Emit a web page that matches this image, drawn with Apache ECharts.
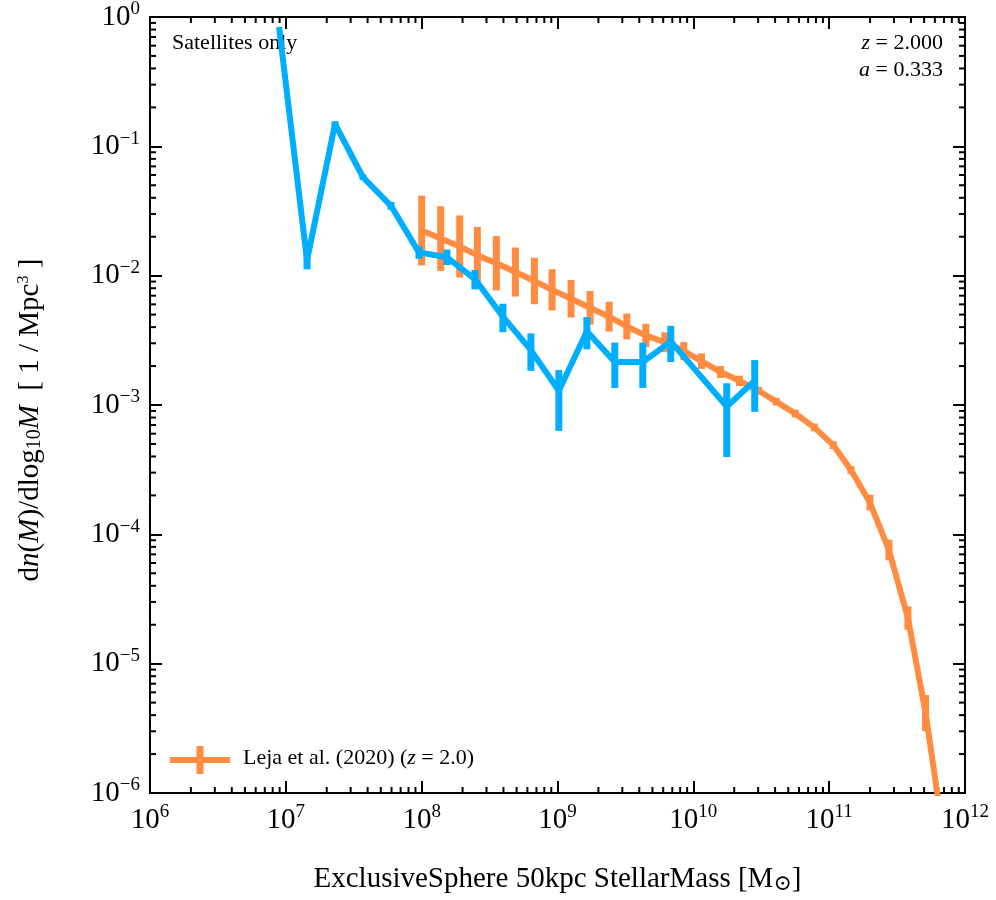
<!DOCTYPE html>
<html><head><meta charset="utf-8">
<script src="https://cdn.jsdelivr.net/npm/echarts@6/dist/echarts.min.js"></script>
<style>html,body{margin:0;padding:0;background:#fff}#c{width:996px;height:900px}</style>
</head><body><div id="c"></div>
<script>
// Simulation (satellites only): log10 M, log10 dn/dlogM, errors in dex (up, down)
const simLogM = [6.95,7.156,7.362,7.568,7.774,7.98,8.186,8.392,8.598,8.804,9.01,9.216,9.422,9.628,9.834,10.246,10.452];
const simLogPhi = [-0.076,-1.881,-0.826,-1.239,-1.46,-1.82,-1.858,-2.026,-2.317,-2.576,-2.89,-2.43,-2.668,-2.668,-2.508,-3.012,-2.813];
const simErrUp = [0,0.06,0.02,0.02,0.03,0.05,0.06,0.07,0.10,0.13,0.16,0.11,0.15,0.15,0.12,0.18,0.16];
const simErrDn = [0,0.07,0.02,0.02,0.03,0.05,0.06,0.08,0.12,0.16,0.31,0.14,0.20,0.20,0.16,0.39,0.24];
// Leja et al. (2020) z=2.0
const lejaLogM = [8.0,8.14,8.28,8.41,8.55,8.69,8.83,8.96,9.1,9.24,9.38,9.51,9.65,9.79,9.93,10.06,10.2,10.34,10.48,10.61,10.75,10.89,11.03,11.16,11.3,11.44,11.58,11.71,11.85];
const lejaLogPhi = [-1.651,-1.713,-1.774,-1.843,-1.904,-1.972,-2.041,-2.110,-2.179,-2.248,-2.317,-2.393,-2.462,-2.515,-2.584,-2.661,-2.745,-2.813,-2.890,-2.974,-3.066,-3.173,-3.310,-3.502,-3.754,-4.121,-4.648,-5.382,-6.39];
const lejaErr = [0.27,0.25,0.24,0.22,0.21,0.19,0.18,0.16,0.145,0.13,0.115,0.10,0.09,0.077,0.07,0.06,0.046,0.04,0.03,0.03,0.03,0.03,0.03,0.03,0.06,0.08,0.09,0.14,0.15];
const xTickExps = [6,7,8,9,10,11,12];
const yTickExps = [-6,-5,-4,-3,-2,-1,0];

const BLUE = '#00aeff', ORANGE = '#ff8c40';
const P = v => Math.pow(10, v);
const simLine = simLogM.map((m,i)=>[P(m),P(simLogPhi[i])]);
const simErr = simLogM.map((m,i)=>[P(m),P(simLogPhi[i]-simErrDn[i]),P(simLogPhi[i]+simErrUp[i])]).filter((d,i)=>simErrUp[i]>0);
const lejaLine = lejaLogM.map((m,i)=>[P(m),P(lejaLogPhi[i])]);
const lejaErrD = lejaLogM.map((m,i)=>[P(m),P(lejaLogPhi[i]-lejaErr[i]),P(lejaLogPhi[i]+lejaErr[i])]);

const FONT = '"Liberation Serif", "DejaVu Serif", serif';
const fmt = v => { const e = Math.round(Math.log10(v)); return '10{s|' + (e<0?'\u2212'+(-e):e) + '}'; };
const rich = {s:{fontSize:19, fontFamily:FONT, color:'#000', padding:[0,0,15,0]}};

function errRender(color, w){
  return function(params, api){
    const a = api.coord([api.value(0), api.value(1)]);
    const b = api.coord([api.value(0), api.value(2)]);
    return {type:'line', shape:{x1:a[0],y1:a[1],x2:b[0],y2:b[1]}, style:{stroke:color, lineWidth:w}};
  };
}
function minorRender(params, api){
  const ch = [];
  for (let e=6;e<12;e++) for (let k=2;k<10;k++){
    const x = api.coord([k*P(e), 1e-6])[0];
    const t = api.coord([k*P(e), 1])[1];
    const b = api.coord([k*P(e), 1e-6])[1];
    ch.push({type:'line',shape:{x1:x,y1:b,x2:x,y2:b-6},style:{stroke:'#000',lineWidth:2}});
    ch.push({type:'line',shape:{x1:x,y1:t,x2:x,y2:t+6},style:{stroke:'#000',lineWidth:2}});
  }
  for (let e=-6;e<0;e++) for (let k=2;k<10;k++){
    const y = api.coord([1e6, k*P(e)])[1];
    const l = api.coord([1e6, 1])[0];
    const r = api.coord([1e12, 1])[0];
    ch.push({type:'line',shape:{x1:l,y1:y,x2:l+6,y2:y},style:{stroke:'#000',lineWidth:2}});
    ch.push({type:'line',shape:{x1:r,y1:y,x2:r-6,y2:y},style:{stroke:'#000',lineWidth:2}});
  }
  return {type:'group', children:ch};
}
const axBase = {type:'log', logBase:10, interval:1, splitLine:{show:false},
  axisLine:{show:true, onZero:false, lineStyle:{color:'#000', width:2}},
  axisTick:{show:true, inside:true, length:12, lineStyle:{color:'#000', width:2}}};

const chart = echarts.init(document.getElementById('c'), null, {renderer:'canvas'});
chart.setOption({
  animation:false,
  grid:{left:150, right:31, top:14, bottom:101},
  xAxis:[
    Object.assign({}, axBase, {min:1e6, max:1e12, position:'bottom',
      axisLabel:{formatter:fmt, rich:rich, fontSize:29, fontFamily:FONT, color:'#000', margin:10},
      name:'ExclusiveSphere 50kpc StellarMass [M{sub|\u2299}]', nameLocation:'middle', nameGap:70,
      nameTextStyle:{fontSize:29, fontFamily:FONT, color:'#000', rich:{sub:{fontSize:22, fontFamily:FONT, padding:[10,0,0,0]}}}}),
    Object.assign({}, axBase, {min:1e6, max:1e12, position:'top', axisLabel:{show:false}})
  ],
  yAxis:[
    Object.assign({}, axBase, {min:1e-6, max:1, position:'left',
      axisLabel:{formatter:fmt, rich:rich, fontSize:29, fontFamily:FONT, color:'#000', margin:10}}),
    Object.assign({}, axBase, {min:1e-6, max:1, position:'right', axisLabel:{show:false}})
  ],
  series:[
    {type:'custom', renderItem:minorRender, data:[[1e6,1]], silent:true, clip:false, z:1},
    {type:'line', data:lejaLine, showSymbol:false, symbol:'none', lineStyle:{color:ORANGE, width:6}, clip:true, z:2},
    {type:'custom', renderItem:errRender(ORANGE,7), data:lejaErrD, clip:true, z:2},
    {type:'line', data:simLine, showSymbol:false, symbol:'none', lineStyle:{color:BLUE, width:6}, clip:true, z:3},
    {type:'custom', renderItem:errRender(BLUE,7), data:simErr, clip:true, z:3}
  ],
  graphic:[
    {type:'text', left:172, top:32, style:{text:'Satellites only', font:'22px '+FONT, fill:'#000'}},
    {type:'text', right:53, top:32, style:{text:'{i|z} = 2.000', font:'22px '+FONT, fill:'#000', align:'right', rich:{i:{fontStyle:'italic', fontSize:22, fontFamily:FONT}}}},
    {type:'text', right:53, top:59, style:{text:'{i|a} = 0.333', font:'22px '+FONT, fill:'#000', align:'right', rich:{i:{fontStyle:'italic', fontSize:22, fontFamily:FONT}}}},
    {type:'line', shape:{x1:170,y1:760,x2:230,y2:760}, style:{stroke:ORANGE, lineWidth:6}},
    {type:'line', shape:{x1:200,y1:746,x2:200,y2:774}, style:{stroke:ORANGE, lineWidth:7}},
    {type:'text', left:243, top:747, style:{text:'Leja et al. (2020) ({i|z} = 2.0)', font:'22px '+FONT, fill:'#000', rich:{i:{fontStyle:'italic', fontSize:22, fontFamily:FONT}}}},
    {type:'text', x:30, y:420, rotation:Math.PI/2, style:{text:'d{i|n}({i|M})/dlog{sub|10}{i|M}  [ 1 / Mpc{sup|3} ]', font:'29px '+FONT, fill:'#000', align:'center', verticalAlign:'middle',
      rich:{i:{fontStyle:'italic', fontSize:29, fontFamily:FONT}, sub:{fontSize:20, fontFamily:FONT, padding:[10,0,0,0]}, sup:{fontSize:16, fontFamily:FONT, padding:[0,0,12,0]}}}}
  ]
});
</script></body></html>
